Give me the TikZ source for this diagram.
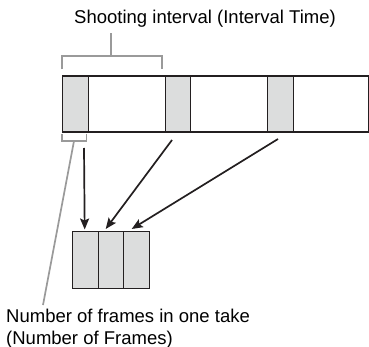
\documentclass[tikz,border=0pt]{standalone}
\usepackage{fontspec}
\setmainfont{Liberation Sans}
\usetikzlibrary{arrows.meta,calc}
\definecolor{inkdark}{HTML}{231F20}
\definecolor{framegray}{HTML}{DCDDDD}
\definecolor{leadgray}{HTML}{9A9A9A}
\tikzset{
  stripbox/.style={draw=inkdark, line width=1.5pt, fill=white, inner sep=0pt},
  framebox/.style={draw=inkdark, line width=1.4pt, fill=framegray, inner sep=0pt,
    minimum width=25.5pt, minimum height=56pt, anchor=north west},
  takebox/.style={draw=inkdark, line width=1.4pt, fill=framegray, inner sep=0pt,
    minimum width=25.5pt, minimum height=57pt, anchor=north west},
  bracket/.style={draw=leadgray, line width=1.7pt},
  pointer/.style={draw=inkdark, line width=1.7pt, -{Stealth[length=11pt,width=9pt,inset=2pt]}},
  label/.style={inner sep=0pt, font=\fontsize{18.5}{21.5}\selectfont}
}
\begin{document}
\begin{tikzpicture}[x=1pt,y=-1pt]
\useasboundingbox (0,0) rectangle (369,347);

% recording strip
\node[stripbox, minimum width=306pt, minimum height=56pt, anchor=north west] (strip) at (62,75.5) {};
\foreach \n/\x in {1/62,2/164.5,3/267}
  \node[framebox] (f\n) at (\x,75.5) {};

% frames of one take
\node[takebox] (t1) at (72,231) {};
\node[takebox] (t2) at (97.5,231) {};
\node[takebox] (t3) at (123,231) {};

% texts
\node[label, anchor=base] (title) at (205,24) {Shooting interval (Interval Time)};
\node[label, anchor=north west, align=left] (caption) at (6,309)
  {Number of frames in one take\\(Number of Frames)};

% brackets
\coordinate (stemtop) at (111,33);
\coordinate (stembot) at (111,56);
\draw[bracket] (62,69.5) -- (62,56) -- (162,56) -- (162,69.5);
\draw[bracket] (stembot) -- (stemtop);
\draw[bracket] (62,134) -- (62,141) -- (86.5,141) -- (86.5,134);
\coordinate (leadtop) at (74,141);
\coordinate (leadend) at (43,305);
\draw[bracket] (leadtop) -- (leadend);

% arrows into the take
\coordinate (s1) at (84,148);
\coordinate (s2) at (172,140);
\coordinate (s3) at (278,139);
\draw[pointer] (s1) -- ($(t1.north)+(-0.75,-1.5)$);
\draw[pointer] (s2) -- ($(t2.north)+(-5.25,-2)$);
\draw[pointer] (s3) -- ($(t3.north)+(-4.75,-2)$);
\end{tikzpicture}
\end{document}
